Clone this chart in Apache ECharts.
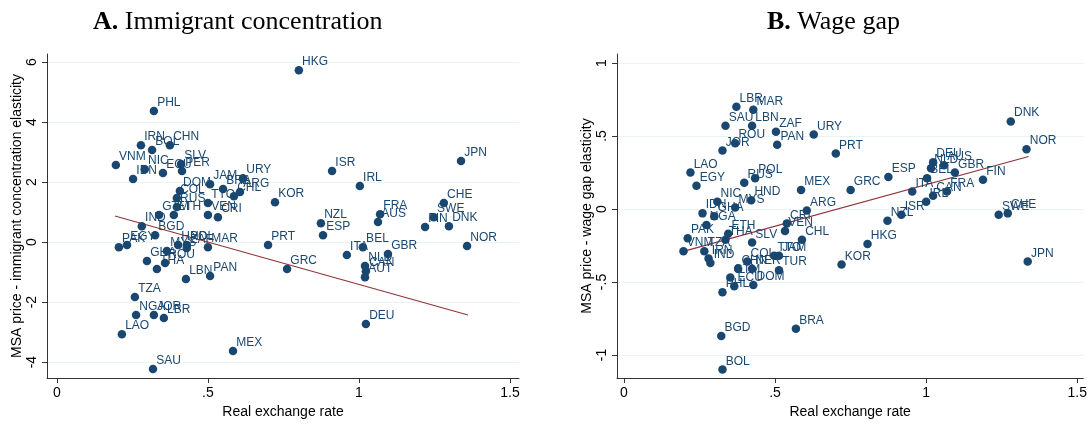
<!DOCTYPE html>
<html><head><meta charset="utf-8">
<script src="https://cdn.jsdelivr.net/npm/echarts@6/dist/echarts.min.js"></script>
<style>html,body{margin:0;padding:0;background:#fff}#c{width:1090px;height:429px}</style>
</head><body><div id="c"></div>
<script>
// ---- Panel A: Immigrant concentration ----
const namesA = ["HKG","PHL","IRN","BOL","CHN","VNM","NIC","IDN","ECU","SLV","PER","JAM","DOM","BRA","URY","ARG","CHL","COL","RUS","TTO","KOR","GTM","ETH","VEN","CRI","IND","BGD","EGY","PAK","HND","MYS","POL","ZAF","MAR","GHA","ROU","THA","LBN","PAN","PRT","GRC","TZA","NGA","JOR","LBR","LAO","MEX","SAU","ISR","IRL","JPN","CHE","SWE","FIN","DNK","FRA","AUS","NZL","ESP","BEL","ITA","GBR","NLD","CAN","AUT","NOR","DEU"];
const xA = [0.801,0.321,0.278,0.315,0.374,0.195,0.291,0.252,0.351,0.411,0.414,0.507,0.407,0.550,0.616,0.606,0.586,0.397,0.397,0.500,0.722,0.338,0.387,0.500,0.533,0.281,0.325,0.232,0.205,0.401,0.364,0.430,0.430,0.500,0.298,0.358,0.331,0.427,0.507,0.699,0.762,0.258,0.262,0.321,0.354,0.215,0.583,0.318,0.911,1.003,1.338,1.281,1.248,1.219,1.298,1.070,1.063,0.874,0.881,1.013,0.960,1.096,1.020,1.023,1.020,1.358,1.023];
const yA = [5.73,4.37,3.23,3.07,3.23,2.57,2.43,2.10,2.30,2.60,2.37,1.93,1.70,1.77,2.13,1.67,1.53,1.47,1.17,1.30,1.33,0.90,0.90,0.90,0.83,0.53,0.23,-0.10,-0.17,-0.10,-0.30,-0.10,-0.20,-0.17,-0.63,-0.70,-0.90,-1.23,-1.13,-0.10,-0.90,-1.83,-2.43,-2.43,-2.53,-3.07,-3.63,-4.23,2.37,1.87,2.70,1.30,0.83,0.50,0.53,0.93,0.67,0.63,0.23,-0.17,-0.43,-0.40,-0.80,-0.97,-1.17,-0.13,-2.73];
const fitAx = [0.192, 1.361];
const fitAy = [0.87, -2.43];
const ticksAx = [0, 0.5, 1, 1.5];
const ticksAy = [-4, -2, 0, 2, 4, 6];

// ---- Panel B: Wage gap ----
const namesB = ["LBR","MAR","SAU","LBN","ZAF","ROU","JOR","PAN","URY","PRT","LAO","EGY","RUS","POL","MEX","HND","NIC","MYS","IDN","GHA","NGA","ARG","PAK","VNM","ETH","THA","SLV","TZA","IRN","IND","COL","CHN","NER","GTM","ECU","PHL","DOM","TTO","JAM","TUR","CRI","VEN","CHL","BGD","BRA","BOL","DNK","NOR","ESP","GRC","DEU","NLD","AUS","GBR","BEL","FIN","ITA","IRL","CAN","FRA","ISR","NZL","HKG","KOR","SWE","CHE","JPN"];
const xB = [0.372,0.428,0.336,0.424,0.503,0.368,0.326,0.507,0.628,0.701,0.220,0.240,0.398,0.434,0.586,0.421,0.309,0.368,0.260,0.299,0.273,0.605,0.211,0.197,0.345,0.336,0.424,0.266,0.280,0.286,0.408,0.378,0.424,0.352,0.365,0.326,0.428,0.497,0.513,0.513,0.539,0.533,0.589,0.322,0.569,0.326,1.280,1.332,0.875,0.750,1.023,1.016,1.059,1.095,1.003,1.188,0.954,1.000,1.023,1.069,0.918,0.872,0.806,0.720,1.240,1.270,1.336];
const yB = [0.70,0.68,0.57,0.57,0.53,0.45,0.40,0.44,0.51,0.38,0.25,0.16,0.18,0.21,0.13,0.06,0.05,0.01,-0.03,-0.05,-0.11,-0.01,-0.20,-0.29,-0.17,-0.21,-0.23,-0.29,-0.34,-0.37,-0.36,-0.41,-0.41,-0.47,-0.53,-0.57,-0.52,-0.32,-0.32,-0.42,-0.10,-0.15,-0.21,-0.87,-0.82,-1.10,0.60,0.41,0.22,0.13,0.32,0.28,0.30,0.25,0.21,0.20,0.12,0.05,0.09,0.12,-0.04,-0.08,-0.24,-0.38,-0.04,-0.03,-0.36];
const fitBx = [0.197, 1.339];
const fitBy = [-0.29, 0.36];
const ticksBx = [0, 0.5, 1, 1.5];
const ticksBy = [-1, -0.5, 0, 0.5, 1];

const SANS = '"Liberation Sans", Arial, sans-serif';
const SERIF = '"Liberation Serif", "DejaVu Serif", serif';
const NAVY = '#1a476f';
const fmt = v => String(v).replace(/^(-?)0\./, '$1.');

function xAxis(gi, min, max, ticks) {
  return {
    type: 'value', gridIndex: gi, min: min, max: max,
    name: 'Real exchange rate', nameLocation: 'middle', nameGap: 21,
    nameTextStyle: { fontSize: 14, color: '#000', fontFamily: SANS },
    axisLine: { onZero: false, lineStyle: { color: '#333', width: 1 } },
    axisTick: { show: true, length: 5, customValues: ticks, lineStyle: { color: '#333' } },
    axisLabel: { customValues: ticks, formatter: fmt, fontSize: 14, color: '#000', fontFamily: SANS, margin: 8 },
    splitLine: { show: false }
  };
}
function yAxis(gi, min, max, ticks, name, gap) {
  return {
    type: 'value', gridIndex: gi, min: min, max: max,
    name: name, nameLocation: 'middle', nameGap: gap,
    nameTextStyle: { fontSize: 14, color: '#000', fontFamily: SANS },
    axisLine: { show: true, onZero: false, lineStyle: { color: '#333', width: 1 } },
    axisTick: { show: true, length: 5, customValues: ticks, lineStyle: { color: '#333' } },
    axisLabel: { customValues: ticks, formatter: fmt, rotate: 90, fontSize: 14, color: '#000', fontFamily: SANS, margin: 8 },
    splitLine: { show: true, lineStyle: { color: '#eaf2f3', width: 1 } }
  };
}
function pts(names, xs, ys) { return xs.map((x, i) => ({ name: names[i], value: [x, ys[i]] })); }
function scatter(i, names, xs, ys) {
  return {
    type: 'scatter', xAxisIndex: i, yAxisIndex: i, symbolSize: 8.5,
    itemStyle: { color: NAVY, opacity: 1 },
    label: { show: true, formatter: '{b}', position: [7.5, -10], fontSize: 12, color: NAVY, fontFamily: SANS },
    emphasis: { disabled: true }, animation: false, z: 3,
    data: pts(names, xs, ys)
  };
}
function fit(i, fx, fy) {
  return {
    type: 'line', xAxisIndex: i, yAxisIndex: i, showSymbol: false, silent: true, animation: false, z: 2,
    lineStyle: { color: '#90353b', width: 1.2 },
    data: fx.map((x, k) => [x, fy[k]])
  };
}

const chart = echarts.init(document.getElementById('c'), null, { renderer: 'canvas' });
chart.setOption({
  backgroundColor: '#fff',
  animation: false,
  title: [
    { text: '{b|A.} Immigrant concentration', left: 88, top: 4,
      textStyle: { fontSize: 26, fontWeight: 'normal', color: '#000', fontFamily: SERIF,
        rich: { b: { fontSize: 26, fontWeight: 'bold', color: '#000', fontFamily: SERIF } } } },
    { text: '{b|B.} Wage gap', left: 762, top: 4,
      textStyle: { fontSize: 26, fontWeight: 'normal', color: '#000', fontFamily: SERIF,
        rich: { b: { fontSize: 26, fontWeight: 'bold', color: '#000', fontFamily: SERIF } } } }
  ],
  grid: [
    { left: 47, top: 54, width: 472, height: 324, containLabel: false },
    { left: 617, top: 54, width: 469, height: 324, containLabel: false }
  ],
  xAxis: [ xAxis(0, -0.033, 1.530, ticksAx), xAxis(1, -0.023, 1.520, ticksBx) ],
  yAxis: [
    yAxis(0, -4.53, 6.27, ticksAy, 'MSA price - immigrant concentration elasticity', 23),
    yAxis(1, -1.158, 1.062, ticksBy, 'MSA price - wage gap elasticity', 18)
  ],
  series: [
    fit(0, fitAx, fitAy), scatter(0, namesA, xA, yA),
    fit(1, fitBx, fitBy), scatter(1, namesB, xB, yB)
  ]
});
</script>
</body></html>
